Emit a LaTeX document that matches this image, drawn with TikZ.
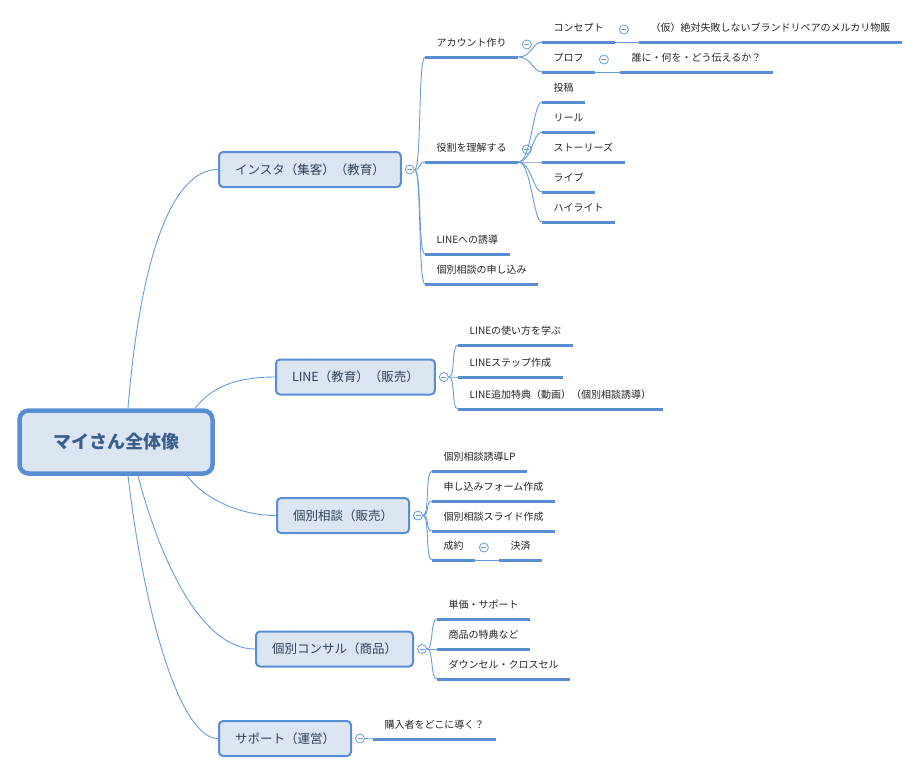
\documentclass[tikz,border=0pt]{standalone}
\usepackage{fontspec}
\setmainfont{Noto Sans CJK JP}
\usepackage{tikz}
\usetikzlibrary{calc}
\definecolor{mmblue}{HTML}{5A8ED4}
\definecolor{mmline}{HTML}{6A9CDD}
\definecolor{mmfill}{HTML}{DCE6F3}
\definecolor{mmtext}{HTML}{2E405A}
\definecolor{roottext}{HTML}{3A5F8E}
\tikzset{
  rootbox/.style={draw=mmblue, line width=4.5pt, fill=mmfill, rounded corners=9pt, minimum width=193pt, minimum height=63pt, font=\fontsize{18}{20}\selectfont\bfseries, text=roottext},
  topic/.style={anchor=west, draw=mmblue, line width=2pt, fill=mmfill, rounded corners=4pt, minimum height=35pt, inner xsep=16pt, font=\fontsize{12.5}{14}\selectfont, text=mmtext},
  leaf/.style={anchor=south west, inner xsep=11.5pt, inner ysep=8pt, text height=8pt, text depth=2pt, font=\fontsize{10}{12}\selectfont, text=black!85},
  uline/.style={draw=mmblue, line width=3pt},
  conn/.style={draw=mmline, line width=0.9pt},
  fold/.style={circle, draw=mmline, fill=white, line width=0.8pt, minimum size=9pt, inner sep=0pt,
    path picture={\draw[mmline, line width=0.8pt] ([xshift=-2.5pt]path picture bounding box.center) -- ([xshift=2.5pt]path picture bounding box.center);}},
  branch/.style={to path={.. controls ([xshift=7pt]\tikztostart) and ([xshift=-7pt]\tikztotarget) .. (\tikztotarget)}},
  subbranch/.style={to path={.. controls ([xshift=13pt]\tikztostart) and ([xshift=-9pt]\tikztotarget) .. (\tikztotarget)}}
}
\begin{document}
\begin{tikzpicture}[x=1pt,y=-1pt]
\useasboundingbox[fill=white] (0,0) rectangle (920,774);
\node[rootbox] (root) at (116,442) {マイさん全体像};
\node[topic] (ins) at (218,169.5) {インスタ（集客）（教育）};
\node[topic] (lin) at (275,377) {LINE（教育）（販売）};
\node[topic] (sod) at (276,515.5) {個別相談（販売）};
\node[topic] (con) at (255,649) {個別コンサル（商品）};
\node[topic] (sup) at (218,738.5) {サポート（運営）};
\draw[conn] ([xshift=12pt]root.north) .. controls +(12,-148) and +(-47,0) .. (ins.west);
\draw[conn] ([xshift=79pt]root.north) .. controls +(20,-26) and +(-29,0) .. (lin.west);
\draw[conn] ([xshift=71pt]root.south) .. controls +(18,24) and +(-35,0) .. (sod.west);
\draw[conn] ([xshift=22pt]root.south) .. controls +(22,84) and +(-54,0) .. (con.west);
\draw[conn] ([xshift=12pt]root.south) .. controls +(17,144) and +(-37,0) .. (sup.west);

\node[leaf] (acc) at (425,57) {アカウント作り};
\node[leaf] (rol) at (425,162) {役割を理解する};
\node[leaf] (lnv) at (425,254) {LINEへの誘導};
\node[leaf] (app) at (425,284) {個別相談の申し込み};
\node[leaf] (kon) at (542,42) {コンセプト};
\node[leaf] (pro) at (542,72) {プロフ};
\node[leaf] (kari) at (639,42) {（仮）絶対失敗しないブランドリペアのメルカリ物販};
\node[leaf] (dare) at (620,72) {誰に・何を・どう伝えるか？};
\node[leaf] (tok) at (542,102) {投稿};
\node[leaf] (ril) at (542,132) {リール};
\node[leaf] (sto) at (542,162) {ストーリーズ};
\node[leaf] (liv) at (542,192) {ライブ};
\node[leaf] (hil) at (542,222) {ハイライト};
\node[leaf] (l1) at (458,345) {LINEの使い方を学ぶ};
\node[leaf] (l2) at (458,377) {LINEステップ作成};
\node[leaf] (l3) at (458,409) {LINE追加特典（動画）（個別相談誘導）};
\node[leaf] (s1) at (432,471) {個別相談誘導LP};
\node[leaf] (s2) at (432,501) {申し込みフォーム作成};
\node[leaf] (s3) at (432,531) {個別相談スライド作成};
\node[leaf] (s4) at (432,560) {成約};
\node[leaf] (kes) at (499,560) {決済};
\node[leaf] (c1) at (437,619) {単価・サポート};
\node[leaf] (c2) at (437,649) {商品の特典など};
\node[leaf] (c3) at (437,679) {ダウンセル・クロスセル};
\node[leaf] (p1) at (373,739) {購入者をどこに導く？};
\foreach \n in {acc,rol,lnv,app,kon,pro,kari,dare,tok,ril,sto,liv,hil,l1,l2,l3,s1,s2,s3,s4,kes,c1,c2,c3,p1}
  \draw[uline] (\n.south west) -- (\n.south east);

\node[fold] (fins) at ([xshift=8pt]ins.east) {};
\node[fold] (flin) at ([xshift=8pt]lin.east) {};
\node[fold] (fsod) at ([xshift=8pt]sod.east) {};
\node[fold] (fcon) at ([xshift=8pt]con.east) {};
\node[fold] (fsup) at ([xshift=8pt]sup.east) {};
\node[fold] (facc) at ([xshift=8.5pt,yshift=12.5pt]acc.south east) {};
\node[fold] (frol) at ([xshift=8.5pt,yshift=12.5pt]rol.south east) {};
\node[fold] (fkon) at ([xshift=8.5pt,yshift=12.5pt]kon.south east) {};
\node[fold] (fpro) at ([xshift=8.5pt,yshift=12.5pt]pro.south east) {};
\node[fold] (fs4) at ([xshift=8.5pt,yshift=12.5pt]s4.south east) {};

\draw[conn] (fins.east) to[branch] (acc.south west);
\draw[conn] (fins.east) to[branch] (rol.south west);
\draw[conn] (fins.east) to[branch] (lnv.south west);
\draw[conn] (fins.east) to[branch] (app.south west);
\draw[conn] (acc.south east) to[subbranch] (kon.south west);
\draw[conn] (acc.south east) to[subbranch] (pro.south west);
\draw[conn] (kon.south east) -- (kari.south west);
\draw[conn] (pro.south east) -- (dare.south west);
\draw[conn] (rol.south east) to[subbranch] (tok.south west);
\draw[conn] (rol.south east) to[subbranch] (ril.south west);
\draw[conn] (rol.south east) to[subbranch] (sto.south west);
\draw[conn] (rol.south east) to[subbranch] (liv.south west);
\draw[conn] (rol.south east) to[subbranch] (hil.south west);
\draw[conn] (flin.east) to[branch] (l1.south west);
\draw[conn] (flin.east) to[branch] (l2.south west);
\draw[conn] (flin.east) to[branch] (l3.south west);
\draw[conn] (fsod.east) to[branch] (s1.south west);
\draw[conn] (fsod.east) to[branch] (s2.south west);
\draw[conn] (fsod.east) to[branch] (s3.south west);
\draw[conn] (fsod.east) to[branch] (s4.south west);
\draw[conn] (s4.south east) -- (kes.south west);
\draw[conn] (fcon.east) to[branch] (c1.south west);
\draw[conn] (fcon.east) to[branch] (c2.south west);
\draw[conn] (fcon.east) to[branch] (c3.south west);
\draw[conn] (fsup.east) -- (p1.south west);
\end{tikzpicture}
\end{document}
